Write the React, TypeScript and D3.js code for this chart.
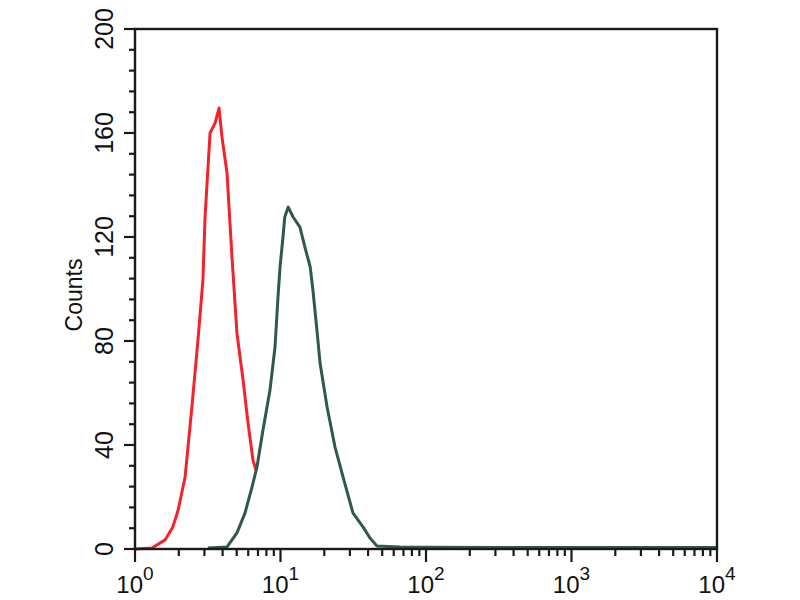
import React from "react";
import * as d3 from "d3";

const redX = [1.0, 1.31, 1.61, 1.82, 1.98, 2.21, 2.46, 2.71, 2.93, 3.03, 3.28, 3.55, 3.78, 3.96, 4.29, 4.64, 5.02, 5.53, 5.98, 6.47, 6.79];
const redY = [0, 0.4, 3.5, 8.5, 15, 27.7, 54.6, 80.4, 103.5, 127.7, 160, 163.8, 169.6, 158.5, 144.6, 112.3, 83, 65, 48.5, 34.2, 30.4];

const greenX = [3.17, 4.29, 5.02, 5.7, 6.37, 6.89, 7.58, 8.47, 9.17, 9.61, 9.93, 10.4, 10.7, 11.3, 12.2, 13.6, 14.7, 16.0, 16.7, 17.8, 18.7, 20.9, 23.7, 26.9, 31.5, 36.9, 41.2, 46.0, 66.2, 100, 300, 1000, 3000, 10000];
const greenY = [0.4, 0.8, 6.2, 13.8, 23.8, 31.5, 45.8, 61.2, 77.7, 96.9, 108.5, 120, 127.7, 131.5, 127.7, 123.8, 116.2, 108.5, 99.6, 84.2, 71.5, 54.6, 39.2, 27.7, 13.8, 8.5, 4.2, 1.2, 0.8, 0.7, 0.6, 0.6, 0.6, 0.6];

const yTickLabels = [0, 40, 80, 120, 160, 200];
const xDecades = [0, 1, 2, 3, 4];

export default function App() {
  const left = 135, right = 717, top = 29, bottom = 549;
  const x = d3.scaleLog().domain([1, 10000]).range([left, right]);
  const y = d3.scaleLinear().domain([0, 200]).range([bottom, top]);
  const line = d3.line<[number, number]>().x(d => x(d[0])).y(d => y(d[1]));
  const redPts = redX.map((v, i) => [v, redY[i]] as [number, number]);
  const greenPts = greenX.map((v, i) => [v, greenY[i]] as [number, number]);

  const yMinor = d3.range(0, 201, 8);
  const xMinor: number[] = [];
  for (let d = 0; d < 4; d++) for (let k = 2; k <= 9; k++) xMinor.push(k * Math.pow(10, d));

  const font = "'Liberation Sans', Arial, Helvetica, sans-serif";
  const axisColor = "#1a1a1a";

  return (
    <svg width={800} height={600} style={{ position: "absolute", left: 0, top: 0, background: "#fff" }}>
      <rect x={0} y={0} width={800} height={600} fill="#fff" />
      <path d={line(redPts) || ""} fill="none" stroke="#f2232b" strokeWidth={3} strokeLinejoin="round" />
      <path d={line(greenPts) || ""} fill="none" stroke="#2f5a46" strokeWidth={3} strokeLinejoin="round" />
      <rect x={left} y={top} width={right - left} height={bottom - top} fill="none" stroke={axisColor} strokeWidth={2.4} />
      {yMinor.map(v => {
        const major = v % 40 === 0;
        return <line key={"ym" + v} x1={left - (major ? 11 : 6)} x2={left} y1={y(v)} y2={y(v)} stroke={axisColor} strokeWidth={2.2} />;
      })}
      {yTickLabels.map(v => (
        <text key={"yl" + v} transform={`translate(113,${y(v)}) rotate(-90)`} textAnchor="middle" fontFamily={font} fontSize={25} fill="#111">{v}</text>
      ))}
      {xMinor.map(v => (
        <line key={"xm" + v} x1={x(v)} x2={x(v)} y1={bottom} y2={bottom + 7} stroke={axisColor} strokeWidth={2.2} />
      ))}
      {xDecades.map(d => (
        <line key={"xM" + d} x1={x(Math.pow(10, d))} x2={x(Math.pow(10, d))} y1={bottom} y2={bottom + 13} stroke={axisColor} strokeWidth={2.2} />
      ))}
      {xDecades.map(d => (
        <text key={"xl" + d} x={x(Math.pow(10, d))} y={593} textAnchor="middle" fontFamily={font} fontSize={24} fill="#111">
          10<tspan fontSize={19} dy={-13}>{d}</tspan>
        </text>
      ))}
      <text transform={`translate(82,295) rotate(-90)`} textAnchor="middle" fontFamily={font} fontSize={23} fill="#111">Counts</text>
    </svg>
  );
}
